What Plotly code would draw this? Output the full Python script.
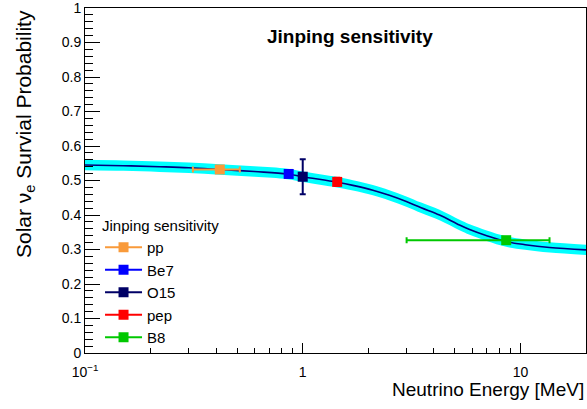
import plotly.graph_objects as go

# Survival probability curve
curve_E = [0.1, 0.15, 0.22, 0.3, 0.416, 0.6, 0.85, 1.0, 1.44, 1.7, 2.1, 2.5, 2.99, 3.5, 4.25, 5.25, 5.84, 7.0, 8.6, 10.5, 13.6, 20.0]
curve_P = [0.545, 0.543, 0.540, 0.537, 0.532, 0.526, 0.519, 0.511, 0.495, 0.486, 0.472, 0.457, 0.439, 0.421, 0.400, 0.371, 0.358, 0.340, 0.323, 0.314, 0.306, 0.299]
band_half = 0.015

# Sensitivity points
names = ["pp", "Be7", "O15", "pep", "B8"]
pt_E = [0.416, 0.862, 1.0, 1.44, 8.6]
pt_P = [0.532, 0.519, 0.511, 0.496, 0.327]
pt_ex_minus = [0.103, 0.0, 0.0, 0.0, 5.6]
pt_ex_plus = [0.098, 0.0, 0.0, 0.0, 5.0]
pt_ey = [0.0, 0.0, 0.051, 0.012, 0.0]
colors = ["#f99a3a", "#0000ff", "#000066", "#ff0000", "#00c800"]

x_major = [0.1, 1, 10]
x_major_text = ["10<sup>\u22121</sup>", "1", "10"]
x_minor = [0.2, 0.3, 0.4, 0.5, 0.6, 0.7, 0.8, 0.9, 2, 3, 4, 5, 6, 7, 8, 9, 20]
y_major = [0, 0.1, 0.2, 0.3, 0.4, 0.5, 0.6, 0.7, 0.8, 0.9, 1.0]
y_major_text = ["0", "0.1", "0.2", "0.3", "0.4", "0.5", "0.6", "0.7", "0.8", "0.9", "1"]

upper = [p + band_half for p in curve_P]
lower = [p - band_half for p in curve_P]

fig = go.Figure()
fig.add_trace(go.Scatter(x=curve_E, y=upper, mode="lines", line=dict(color="#00ffff", width=0, shape="spline"),
                         showlegend=False, hoverinfo="skip"))
fig.add_trace(go.Scatter(x=curve_E, y=lower, mode="lines", line=dict(color="#00ffff", width=0, shape="spline"),
                         fill="tonexty", fillcolor="#00ffff", showlegend=False, hoverinfo="skip"))
fig.add_trace(go.Scatter(x=curve_E, y=curve_P, mode="lines", line=dict(color="#000080", width=1.6, shape="spline"),
                         showlegend=False, hoverinfo="skip"))

for i, n in enumerate(names):
    fig.add_trace(go.Scatter(
        x=[pt_E[i]], y=[pt_P[i]], mode="lines+markers", name=n,
        legendgroup=n,
        marker=dict(symbol="square", size=10, color=colors[i]),
        line=dict(color=colors[i], width=2),
        error_x=dict(type="data", symmetric=False, array=[pt_ex_plus[i]], arrayminus=[pt_ex_minus[i]],
                     color=colors[i], thickness=2, width=3, visible=pt_ex_plus[i] > 0),
        error_y=dict(type="data", array=[pt_ey[i]], color=colors[i], thickness=2, width=3, visible=pt_ey[i] > 0),
    ))

font = "Liberation Sans, Arial, sans-serif"
fig.update_layout(
    width=587, height=409,
    margin=dict(l=85, r=1, t=8, b=56),
    paper_bgcolor="white", plot_bgcolor="white",
    font=dict(family=font, size=14, color="black"),
    showlegend=True,
    legend=dict(x=0.03, y=0.41, xanchor="left", yanchor="top", bgcolor="rgba(0,0,0,0)",
                font=dict(size=15, family=font), title=dict(text="Jinping sensitivity", font=dict(size=15, family=font)),
                traceorder="grouped", tracegroupgap=0, itemwidth=37),
    xaxis=dict(type="log", range=[-1, 1.30103], showline=True, linecolor="black", linewidth=1, mirror=True,
               ticks="inside", ticklen=10, tickcolor="black", tickmode="array", tickvals=x_major, ticktext=x_major_text,
               showgrid=False, zeroline=False, tickfont=dict(size=14), ticklabelstandoff=6, ticklabeloverflow="allow",
               minor=dict(tickmode="array", tickvals=x_minor, ticks="inside", ticklen=5, tickcolor="black", showgrid=False)),
    yaxis=dict(range=[0, 1.0001], showline=True, linecolor="black", linewidth=1, mirror=True,
               ticks="inside", ticklen=15, tickcolor="black", tickmode="array", tickvals=y_major, ticktext=y_major_text,
               showgrid=False, zeroline=False, tickfont=dict(size=14), ticklabeloverflow="allow",
               minor=dict(dtick=0.02, ticks="inside", ticklen=7.5, tickcolor="black", showgrid=False)),
    annotations=[
        dict(text="<b>Jinping sensitivity</b>", xref="paper", yref="paper", x=(350 - 85) / 501, y=1 - (36 - 8) / 345,
             showarrow=False, font=dict(size=19, family=font), xanchor="center", yanchor="middle"),
        dict(text="Neutrino Energy [MeV]", xref="paper", yref="paper", x=1.0, y=-(389 - 353) / 345,
             showarrow=False, font=dict(size=19, family=font), xanchor="right", yanchor="middle"),
        dict(text="Solar \u03bd<sub>e</sub> Survial Probability", xref="paper", yref="paper",
             x=-(85 - 25) / 501, y=1.0, textangle=-90, showarrow=False, font=dict(size=21, family=font),
             xanchor="center", yanchor="top"),
    ],
)

fig.write_html("out.html", config={"displayModeBar": False})

# remove the default page margin so the figure sits at the window's corner
with open("out.html", "r", encoding="utf-8") as f:
    html = f.read()
html = html.replace("<head>", "<head><style>html,body{margin:0;padding:0;overflow:hidden;}</style>", 1)
with open("out.html", "w", encoding="utf-8") as f:
    f.write(html)
